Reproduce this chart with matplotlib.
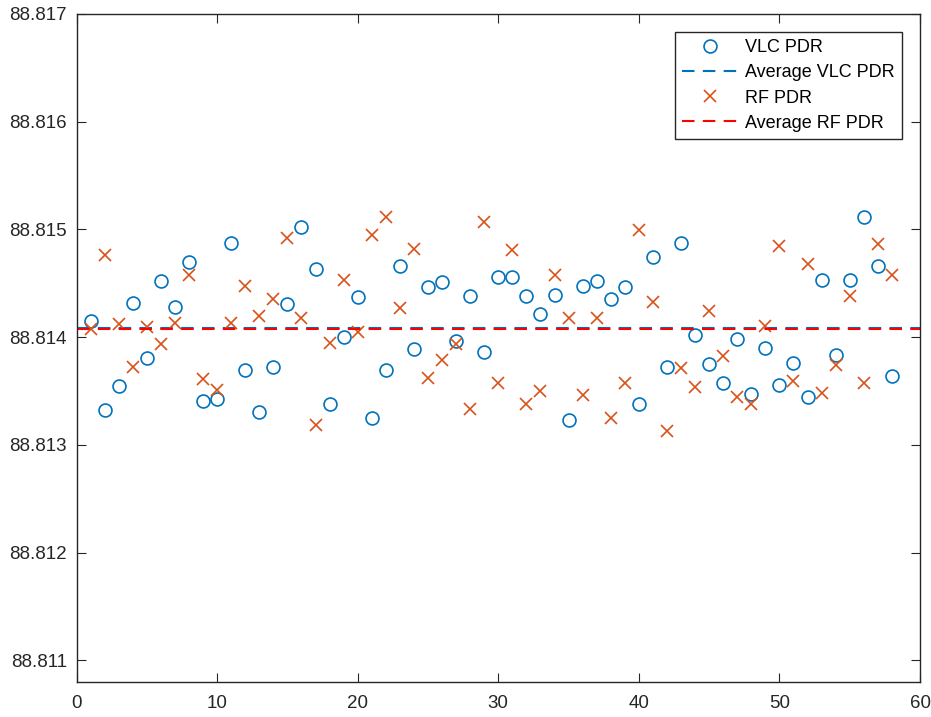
import matplotlib.pyplot as plt
import numpy as np

plt.rcParams['font.family'] = ['Liberation Sans', 'DejaVu Sans']

trial = np.arange(1, 59)

vlc_pdr = [88.814149, 88.813322, 88.813545, 88.814316, 88.813808, 88.814520,
           88.814285, 88.814699, 88.813406, 88.813422, 88.814879, 88.813697,
           88.813310, 88.813725, 88.814304, 88.815021, 88.814631, 88.813381,
           88.814000, 88.814369, 88.813254, 88.813697, 88.814659, 88.813889,
           88.814467, 88.814508, 88.813963, 88.814383, 88.813861, 88.814563,
           88.814563, 88.814383, 88.814220, 88.814396, 88.813229, 88.814480,
           88.814520, 88.814356, 88.814464, 88.813381, 88.814743, 88.813724,
           88.814879, 88.814025, 88.813752, 88.813573, 88.813988, 88.813477,
           88.813904, 88.813561, 88.813765, 88.813449, 88.814535, 88.813833,
           88.814535, 88.815114, 88.814659, 88.813644]

rf_pdr = [88.814077, 88.814759, 88.814124, 88.813724, 88.814093, 88.813941,
          88.814133, 88.814579, 88.813613, 88.813514, 88.814133, 88.814480,
          88.814195, 88.814359, 88.814919, 88.814176, 88.813183, 88.813944,
          88.814535, 88.814049, 88.814947, 88.815114, 88.814272, 88.814823,
          88.813622, 88.813789, 88.813938, 88.813338, 88.815071, 88.813573,
          88.814811, 88.813378, 88.813501, 88.814576, 88.814176, 88.813461,
          88.814176, 88.813254, 88.813573, 88.814991, 88.814328, 88.813130,
          88.813712, 88.813542, 88.814248, 88.813830, 88.813446, 88.813384,
          88.814108, 88.814851, 88.813598, 88.814675, 88.813486, 88.813740,
          88.814381, 88.813573, 88.814866, 88.814573]

blue = '#0072BD'
orange = '#D95319'

fig = plt.figure(figsize=(9.31, 7.17), dpi=100)
ax = fig.add_axes([0.0822, 0.0488, 0.9060, 0.9317])

ax.plot(trial, vlc_pdr, 'o', color=blue, mfc='none', ms=9.3, mew=1.2, label='VLC PDR')
ax.plot([0, 60], [np.mean(vlc_pdr)] * 2, color=blue, lw=1.5, ls=(0, (6, 4)),
        label='Average VLC PDR')
ax.plot(trial, rf_pdr, 'x', color=orange, ms=9.3, mew=1.2, label='RF PDR')
ax.plot([0, 60], [np.mean(rf_pdr)] * 2, color='red', lw=1.5, ls=(0, (6, 4)),
        label='Average RF PDR')

ax.set_xlim(0, 60)
ax.set_ylim(88.8108, 88.817)
ax.set_xticks(np.arange(0, 61, 10))
ax.set_yticks(np.arange(88.811, 88.8171, 0.001))
ax.set_yticklabels(['%.3f' % v for v in np.arange(88.811, 88.8171, 0.001)])
ax.tick_params(direction='in', top=True, right=True, length=6.5, width=0.8,
               labelsize=13.5, colors='#262626')
ax.tick_params(axis='x', pad=9)
ax.tick_params(axis='y', pad=7)
for s in ax.spines.values():
    s.set_color('#262626')
    s.set_linewidth(1.0)

leg = ax.legend(loc='upper right', fontsize=13, numpoints=1, handlelength=3.1,
                handletextpad=0.4, labelspacing=0.45, borderaxespad=1.0,
                fancybox=False, framealpha=1)
leg.get_frame().set_edgecolor('#262626')
leg.get_frame().set_linewidth(1.0)

fig.savefig('out.png')
